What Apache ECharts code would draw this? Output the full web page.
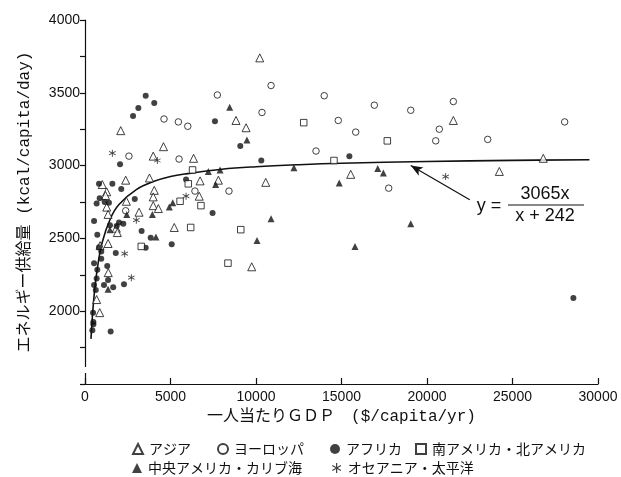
<!DOCTYPE html>
<html lang="ja">
<head>
<meta charset="UTF-8">
<title>一人当たりGDPとエネルギー供給量</title>
<script src="https://cdn.jsdelivr.net/npm/echarts@6/dist/echarts.min.js"></script>
<style>
  html, body { margin: 0; padding: 0; background: #fff; }
  #chart { width: 621px; height: 477px; }
</style>
</head>
<body>
<div id="chart"></div>
<script>
// [GDP $/capita/yr, kcal/capita/day]
const asia = [
  [2090, 3240], [1010, 2870], [2380, 2900], [3770, 2915], [1270, 2820],
  [1200, 2795], [2420, 2755], [1270, 2715], [1350, 2665], [3160, 2680],
  [1830, 2570], [1890, 2540], [880, 2450], [1350, 2465], [1360, 2265],
  [680, 2080], [860, 1990], [4590, 3130], [3990, 3065], [6350, 3050],
  [6730, 2895], [7800, 2900], [4050, 2830], [3990, 2785], [6680, 2790],
  [3990, 2725], [4290, 2705], [5220, 2575], [10220, 3740], [8830, 3310],
  [9420, 3260], [10570, 2885], [15540, 2940], [9750, 2305], [21540, 3310],
  [26800, 3050], [24230, 2960]
];
const europe = [
  [2570, 3065], [2380, 2690], [4620, 3320], [5460, 3300], [6010, 3270],
  [5500, 3045], [6430, 2825], [7740, 3485], [10880, 3550], [10350, 3365],
  [8420, 2825], [13990, 3480], [14810, 3310], [15830, 3230], [13510, 3100],
  [16920, 3415], [17760, 2845], [19050, 3380], [21540, 3440], [20720, 3250],
  [20510, 3170], [23550, 3180], [28050, 3300]
];
const africa = [
  [2810, 3340], [3120, 3395], [3550, 3480], [4050, 3430], [2050, 3010],
  [820, 2875], [1600, 2875], [2120, 2840], [860, 2775], [1150, 2750],
  [1400, 2745], [680, 2740], [2910, 2770], [530, 2620], [1990, 2610],
  [2240, 2600], [1460, 2590], [1850, 2585], [720, 2525], [3310, 2550],
  [820, 2440], [950, 2410], [1800, 2400], [530, 2330], [950, 2360],
  [1300, 2310], [720, 2285], [680, 2225], [1350, 2215], [2280, 2185],
  [1110, 2180], [1650, 2165], [530, 2180], [630, 2145], [470, 1990],
  [490, 1925], [490, 1910], [430, 1870], [1500, 1860], [5910, 2905],
  [7460, 2675], [3840, 2505], [5070, 2460], [3550, 2435], [7600, 3305],
  [9080, 3135], [10310, 3035], [15460, 3065], [28560, 2090]
];
const americas = [
  [6290, 2970], [6040, 2875], [5560, 2755], [6780, 2725], [6180, 2575],
  [3290, 2445], [12790, 3295], [17680, 3170], [14560, 3035], [9110, 2560],
  [8360, 2330]
];
const caribbean = [
  [2440, 2665], [1460, 2560], [1350, 2150], [3940, 2665], [4150, 2510],
  [5130, 2745], [4930, 2715], [7210, 2960], [7900, 2970], [7640, 2870],
  [8460, 3400], [9470, 3175], [12220, 2985], [14870, 2880], [17120, 2980],
  [17450, 2950], [10880, 2635], [10060, 2485], [15790, 2445], [19050, 2600]
];
const oceania = [
  [1600, 3085], [4230, 3035], [3000, 2625], [5910, 2790], [2320, 2395],
  [2710, 2230], [21090, 2925]
];

// fitted curve
const fitX = [350, 500, 700, 1000, 1500, 2000, 3000, 4000, 5000, 6000, 8000, 10000, 12500, 15000, 20000, 25000, 29500];
const fitY = [1810, 2065, 2275, 2470, 2640, 2735, 2835, 2890, 2925, 2945, 2975, 2992, 3006, 3016, 3028, 3036, 3040];

const names = ['アジア', 'ヨーロッパ', 'アフリカ', '南アメリカ・北アメリカ', '中央アメリカ・カリブ海', 'オセアニア・太平洋'];

const INK = '#111';
const asterisk = 'path://M0.6,-5L-0.6,-5L-0.6,5L0.6,5ZM-4.03,-3.02L-4.63,-1.98L4.03,3.02L4.63,1.98ZM4.63,-1.98L4.03,-3.02L-4.63,1.98L-4.03,3.02Z';

const hollow = { color: '#fff', borderColor: INK, borderWidth: 1 };
const filled = { color: INK, borderWidth: 0 };

function scatter(name, data, symbol, size, style) {
  return { name: name, type: 'scatter', data: data, symbol: symbol, symbolSize: size, itemStyle: style, silent: true };
}

const legendPos = [[132, 442], [217, 442], [330, 442], [415, 442], [132, 461], [332, 461]];

const chart = echarts.init(document.getElementById('chart'), null, { renderer: 'canvas' });

chart.setOption({
  animation: false,
  backgroundColor: '#fff',
  textStyle: { fontFamily: "'Liberation Sans', 'Noto Sans CJK JP', sans-serif", color: INK },
  grid: { left: 85, right: 23, top: 20, bottom: 93 },
  legend: names.map(function (n, i) {
    return {
      data: [n], left: legendPos[i][0], top: legendPos[i][1], padding: 0,
      itemWidth: 10, itemHeight: 10, selectedMode: false,
      textStyle: { fontSize: 14, fontFamily: "'Noto Sans CJK JP', sans-serif", color: INK, padding: [0, 0, 0, 1] }
    };
  }),
  xAxis: {
    type: 'value', min: 0, max: 30000, interval: 5000,
    name: '一人当たりＧＤＰ　($/capita/yr)', nameLocation: 'middle', nameGap: 15,
    nameTextStyle: { fontSize: 16, fontFamily: "'Liberation Mono', 'Noto Sans CJK JP', monospace", color: INK },
    axisLine: { lineStyle: { color: INK, width: 1.2 } },
    axisTick: { inside: true, length: 6, lineStyle: { color: INK, width: 1.2 } },
    axisLabel: { fontSize: 14, color: INK, margin: 6, formatter: function (v) { return String(v); } },
    splitLine: { show: false }
  },
  yAxis: {
    type: 'value', min: 1500, max: 4000, interval: 250,
    name: 'エネルギー供給量 (kcal/capita/day)', nameLocation: 'middle', nameGap: 52,
    nameTextStyle: { fontSize: 16, fontFamily: "'Liberation Mono', 'Noto Sans CJK JP', monospace", color: INK },
    axisLine: { show: true, lineStyle: { color: INK, width: 1.2 } },
    axisTick: { show: true, length: 5, lineStyle: { color: INK, width: 1.2 } },
    axisLabel: {
      fontSize: 14, color: INK, margin: 5,
      formatter: function (v) { return (v % 500 === 0 && v > 1500) ? String(v) : ''; }
    },
    splitLine: { show: false }
  },
  series: [
    {
      name: 'fit', type: 'line', smooth: 0.4, symbol: 'none', silent: true, z: 1,
      data: fitX.map(function (x, i) { return [x, fitY[i]]; }),
      lineStyle: { color: INK, width: 1.6 },
      markLine: {
        silent: true, symbol: ['none', 'arrow'], symbolSize: [7, 12],
        lineStyle: { color: INK, width: 1.2, type: 'solid' },
        label: { show: false },
        data: [[{ coord: [22500, 2765] }, { coord: [19050, 3000] }]]
      }
    },
    scatter(names[0], asia, 'triangle', 8, hollow),
    scatter(names[1], europe, 'circle', 6.5, hollow),
    scatter(names[2], africa, 'circle', 6, filled),
    scatter(names[3], americas, 'rect', 6.5, hollow),
    scatter(names[4], caribbean, 'triangle', 7, filled),
    scatter(names[5], oceania, asterisk, 7, filled)
  ],
  graphic: [
    // small break in the y axis line near the bottom
    { type: 'rect', shape: { x: 82, y: 367, width: 6, height: 6 }, style: { fill: '#fff' }, z: 100 },
    { type: 'text', x: 489, y: 206, style: { text: 'y =', fill: INK, font: "18px 'Liberation Sans Narrow', 'Liberation Sans'", align: 'center', verticalAlign: 'middle' } },
    { type: 'text', x: 545, y: 194, style: { text: '3065x', fill: INK, font: "18px 'Liberation Sans Narrow', 'Liberation Sans'", align: 'center', verticalAlign: 'middle' } },
    { type: 'line', shape: { x1: 508, y1: 205, x2: 584, y2: 205 }, style: { stroke: INK, lineWidth: 1.2 } },
    { type: 'text', x: 545, y: 216, style: { text: 'x + 242', fill: INK, font: "18px 'Liberation Sans Narrow', 'Liberation Sans'", align: 'center', verticalAlign: 'middle' } }
  ]
});
</script>
</body>
</html>
